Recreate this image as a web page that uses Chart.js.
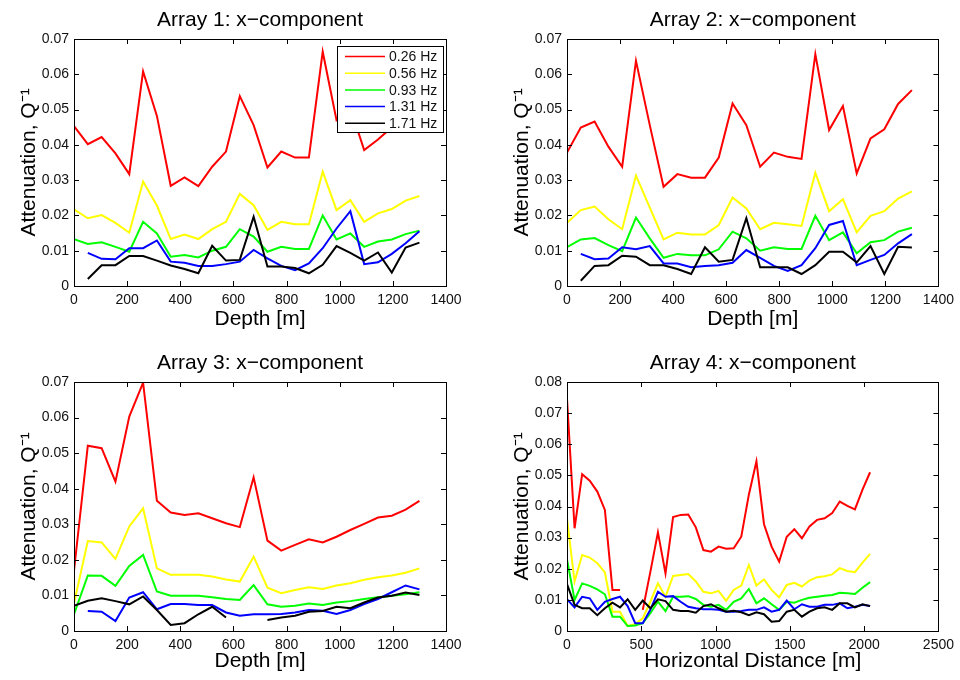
<!DOCTYPE html>
<html>
<head>
<meta charset="utf-8">
<script src="https://cdn.jsdelivr.net/npm/chart.js@4.4.0/dist/chart.umd.min.js"></script>
<style>
  body { margin: 0; background: #fff; }
  #wrap { position: relative; width: 960px; height: 680px; background: #fff; }
  canvas { position: absolute; }
</style>
</head>
<body>
<div id="wrap">
  <canvas id="c1" width="480" height="340" style="left:0;top:0"></canvas>
  <canvas id="c2" width="480" height="340" style="left:480px;top:0"></canvas>
  <canvas id="c3" width="480" height="340" style="left:0;top:340px"></canvas>
  <canvas id="c4" width="480" height="340" style="left:480px;top:340px"></canvas>
</div>
<script>
// frequency bands
var freqLabels = ["0.26 Hz", "0.56 Hz", "0.93 Hz", "1.31 Hz", "1.71 Hz"];
var lineColors = ["#ff0000", "#ffff00", "#00ff00", "#0000ff", "#000000"];

// depth stations for arrays 1-3 [m]
var depth = [0, 52, 104, 156, 208, 260, 312, 364, 416, 468, 520, 572, 624,
             676, 728, 780, 832, 884, 936, 988, 1040, 1092, 1144, 1196, 1248, 1300];

// horizontal stations for array 4 [m]
var dist = [0, 51, 102, 153, 204, 255, 306, 357, 408, 459, 510, 561, 612, 663,
            714, 765, 816, 867, 918, 969, 1020, 1071, 1122, 1173, 1224, 1275, 1326,
            1377, 1428, 1479, 1530, 1581, 1632, 1683, 1734, 1785, 1836, 1887, 1938,
            1989, 2040];

// Array 1
var a1_026 = [0.0453,0.0402,0.0422,0.0376,0.0317,0.0608,0.0482,0.0284,0.0308,0.0283,0.0338,0.0381,0.0538,0.0456,0.0336,0.0381,0.0364,0.0364,0.0664,0.0470,0.0505,0.0385,0.0415,0.0450,0.0490,0.0520];
var a1_056 = [0.0217,0.0192,0.0201,0.0179,0.0151,0.0296,0.0228,0.0133,0.0146,0.0133,0.0161,0.0182,0.0261,0.0229,0.0159,0.0182,0.0175,0.0175,0.0324,0.0215,0.0243,0.0182,0.0206,0.0218,0.0242,0.0255];
var a1_093 = [0.0133,0.0119,0.0124,0.0111,0.0097,0.0182,0.0149,0.0083,0.0088,0.0081,0.0100,0.0111,0.0161,0.0140,0.0097,0.0111,0.0105,0.0105,0.0200,0.0132,0.0149,0.0111,0.0126,0.0132,0.0147,0.0157];
var a1_131 = [null,0.0094,0.0077,0.0076,0.0107,0.0107,0.0129,0.0069,0.0066,0.0057,0.0057,0.0062,0.0069,0.0102,0.0078,0.0057,0.0045,0.0064,0.0107,0.0163,0.0212,0.0062,0.0067,0.0091,0.0121,0.0155];
var a1_171 = [null,0.0020,0.0059,0.0059,0.0085,0.0085,0.0072,0.0058,0.0048,0.0036,0.0114,0.0072,0.0074,0.0196,0.0055,0.0055,0.0051,0.0036,0.0060,0.0113,0.0094,0.0072,0.0095,0.0038,0.0109,0.0123];

// Array 2
var a2_026 = [0.0378,0.0449,0.0466,0.0395,0.0338,0.0638,0.0456,0.0281,0.0317,0.0307,0.0307,0.0364,0.0517,0.0456,0.0338,0.0378,0.0366,0.0360,0.0657,0.0442,0.0510,0.0319,0.0418,0.0444,0.0516,0.0555];
var a2_056 = [0.0179,0.0215,0.0225,0.0189,0.0161,0.0313,0.0222,0.0132,0.0151,0.0146,0.0146,0.0173,0.0251,0.0220,0.0161,0.0179,0.0175,0.0170,0.0321,0.0212,0.0246,0.0152,0.0199,0.0212,0.0248,0.0268];
var a2_093 = [0.0110,0.0132,0.0136,0.0116,0.0099,0.0194,0.0135,0.0080,0.0091,0.0087,0.0087,0.0104,0.0154,0.0135,0.0100,0.0110,0.0105,0.0105,0.0199,0.0130,0.0152,0.0093,0.0124,0.0130,0.0154,0.0165];
var a2_131 = [null,0.0091,0.0076,0.0078,0.0110,0.0104,0.0113,0.0064,0.0064,0.0053,0.0057,0.0059,0.0066,0.0102,0.0080,0.0057,0.0043,0.0059,0.0107,0.0173,0.0184,0.0059,0.0074,0.0088,0.0121,0.0147];
var a2_171 = [null,0.0015,0.0057,0.0059,0.0086,0.0083,0.0059,0.0059,0.0048,0.0034,0.0110,0.0069,0.0074,0.0192,0.0053,0.0053,0.0053,0.0034,0.0059,0.0097,0.0097,0.0067,0.0113,0.0034,0.0111,0.0109];

// Array 3
var a3_026 = [0.0170,0.0521,0.0514,0.0420,0.0603,0.0698,0.0366,0.0333,0.0326,0.0331,0.0317,0.0303,0.0292,0.0432,0.0254,0.0226,0.0242,0.0258,0.0249,0.0265,0.0284,0.0301,0.0319,0.0324,0.0341,0.0366];
var a3_056 = [0.0078,0.0253,0.0249,0.0203,0.0294,0.0345,0.0176,0.0158,0.0158,0.0158,0.0153,0.0145,0.0139,0.0209,0.0122,0.0106,0.0115,0.0123,0.0118,0.0128,0.0134,0.0144,0.0151,0.0156,0.0164,0.0176];
var a3_093 = [0.0047,0.0156,0.0155,0.0127,0.0183,0.0214,0.0111,0.0099,0.0099,0.0099,0.0095,0.0090,0.0087,0.0129,0.0075,0.0068,0.0071,0.0077,0.0073,0.0080,0.0084,0.0090,0.0095,0.0099,0.0103,0.0109];
var a3_131 = [null,0.0056,0.0054,0.0028,0.0094,0.0109,0.0061,0.0076,0.0076,0.0073,0.0073,0.0052,0.0043,0.0047,0.0047,0.0048,0.0052,0.0059,0.0057,0.0048,0.0059,0.0076,0.0090,0.0109,0.0128,0.0117];
var a3_171 = [0.0071,0.0085,0.0092,0.0084,0.0075,0.0097,0.0059,0.0017,0.0022,0.0047,0.0068,0.0038,null,null,0.0031,0.0038,0.0043,0.0054,0.0056,0.0068,0.0064,0.0080,0.0094,0.0099,0.0108,0.0101];

// Array 4
var a4_026 = [0.0746,0.0330,0.0504,0.0483,0.0448,0.0389,0.0132,0.0132,null,null,0.0068,0.0190,0.0317,0.0185,0.0366,0.0373,0.0374,0.0333,0.0260,0.0255,0.0271,0.0264,0.0266,0.0303,0.0438,0.0545,0.0343,0.0271,0.0223,0.0303,0.0327,0.0298,0.0336,0.0357,0.0362,0.0379,0.0416,0.0402,0.0391,0.0454,0.0510];
var a4_056 = [0.0360,0.0159,0.0244,0.0236,0.0218,0.0188,0.0062,0.0062,0.0016,0.0022,0.0041,0.0094,0.0153,0.0110,0.0177,0.0180,0.0183,0.0159,0.0126,0.0121,0.0129,0.0097,0.0132,0.0146,0.0212,0.0146,0.0166,0.0132,0.0108,0.0148,0.0155,0.0143,0.0162,0.0173,0.0176,0.0182,0.0202,0.0193,0.0189,0.0220,0.0248];
var a4_093 = [0.0230,0.0100,0.0153,0.0145,0.0134,0.0118,0.0046,0.0046,0.0016,0.0018,0.0025,0.0057,0.0094,0.0064,0.0110,0.0110,0.0112,0.0103,0.0084,0.0078,0.0084,0.0068,0.0094,0.0105,0.0135,0.0089,0.0105,0.0086,0.0068,0.0094,0.0091,0.0100,0.0107,0.0110,0.0113,0.0116,0.0123,0.0121,0.0119,0.0139,0.0157];
var a4_131 = [0.0102,0.0076,0.0110,0.0105,0.0068,0.0094,0.0103,0.0110,0.0080,0.0025,0.0025,0.0068,0.0126,0.0110,0.0112,0.0094,0.0078,0.0073,0.0070,0.0070,0.0068,0.0062,0.0062,0.0064,0.0068,0.0068,0.0076,0.0062,0.0068,0.0098,0.0070,0.0086,0.0078,0.0078,0.0084,0.0084,0.0089,0.0073,0.0078,0.0084,0.0080];
var a4_171 = [0.0151,0.0084,0.0073,0.0073,0.0051,0.0073,0.0091,0.0076,0.0102,0.0068,0.0098,0.0073,0.0102,0.0096,0.0068,0.0064,0.0064,0.0059,0.0080,0.0086,0.0073,0.0062,0.0065,0.0060,0.0051,0.0060,0.0054,0.0030,0.0032,0.0062,0.0068,0.0046,0.0062,0.0073,0.0076,0.0068,0.0089,0.0089,0.0076,0.0086,0.0080];

var FONT = '"Liberation Sans", Arial, Helvetica, sans-serif';
Chart.defaults.font.family = FONT;
Chart.defaults.color = '#111';

// box around the axes with inward tick marks on all four sides
var frameTicks = {
  id: 'frameTicks',
  afterDatasetsDraw: function(chart) {
    var ctx = chart.ctx, a = chart.chartArea;
    var sx = chart.scales.x, sy = chart.scales.y;
    var len = 5;
    ctx.save();
    ctx.strokeStyle = '#000';
    ctx.lineWidth = 1;
    ctx.beginPath();
    sx.ticks.forEach(function(t) {
      var px = Math.round(sx.getPixelForValue(t.value)) + 0.5;
      ctx.moveTo(px, a.bottom); ctx.lineTo(px, a.bottom - len);
      ctx.moveTo(px, a.top); ctx.lineTo(px, a.top + len);
    });
    sy.ticks.forEach(function(t) {
      var py = Math.round(sy.getPixelForValue(t.value)) + 0.5;
      ctx.moveTo(a.left, py); ctx.lineTo(a.left + len, py);
      ctx.moveTo(a.right, py); ctx.lineTo(a.right - len, py);
    });
    ctx.stroke();
    ctx.strokeRect(Math.round(a.left) + 0.5, Math.round(a.top) + 0.5,
                   Math.round(a.right - a.left), Math.round(a.bottom - a.top));
    ctx.restore();
  }
};

// title centred over the axes box
var axesTitle = {
  id: 'axesTitle',
  afterDraw: function(chart, args, opts) {
    var ctx = chart.ctx, a = chart.chartArea;
    ctx.save();
    ctx.fillStyle = '#000';
    ctx.font = '21px ' + FONT;
    ctx.textAlign = 'center';
    ctx.textBaseline = 'alphabetic';
    ctx.fillText(opts.text, (a.left + a.right) / 2, opts.y);
    ctx.restore();
  }
};

// boxed legend in the upper right corner of the axes
var boxLegend = {
  id: 'boxLegend',
  afterDraw: function(chart, args, opts) {
    if (!opts.show) return;
    var ctx = chart.ctx, a = chart.chartArea;
    var w = 106, h = 86;
    var x0 = a.right - 3 - w, y0 = a.top + 7;
    ctx.save();
    ctx.fillStyle = '#fff';
    ctx.fillRect(x0, y0, w, h);
    ctx.strokeStyle = '#000';
    ctx.lineWidth = 1;
    ctx.strokeRect(Math.round(x0) + 0.5, Math.round(y0) + 0.5, w, h);
    ctx.font = '14px ' + FONT;
    ctx.textBaseline = 'middle';
    ctx.textAlign = 'left';
    var ds = chart.data.datasets;
    for (var i = 0; i < ds.length; i++) {
      var yy = y0 + 10.5 + i * 16.7;
      ctx.strokeStyle = ds[i].borderColor;
      ctx.lineWidth = 1.5;
      ctx.beginPath();
      ctx.moveTo(x0 + 8, yy);
      ctx.lineTo(x0 + 48, yy);
      ctx.stroke();
      ctx.fillStyle = '#111';
      ctx.fillText(ds[i].label, x0 + 52, yy + 1);
    }
    ctx.restore();
  }
};

function makePlot(id, title, xTitle, xs, series, xMax, xStep, yMax, box) {
  var datasets = series.map(function(vals, k) {
    return {
      label: freqLabels[k],
      data: xs.map(function(x, i) { return { x: x, y: vals[i] }; }),
      borderColor: lineColors[k],
      backgroundColor: lineColors[k],
      borderWidth: 2,
      pointRadius: 0,
      tension: 0,
      fill: false,
      order: 5 - k
    };
  });
  return new Chart(document.getElementById(id), {
    type: 'line',
    data: { datasets: datasets },
    plugins: [frameTicks, axesTitle, boxLegend],
    options: {
      responsive: false,
      animation: false,
      layout: { padding: { left: 0, right: box.right, top: box.top, bottom: 0 } },
      plugins: {
        legend: { display: false },
        tooltip: { enabled: false },
        axesTitle: { text: title, y: box.titleY },
        boxLegend: { show: !!box.legend }
      },
      scales: {
        x: {
          type: 'linear',
          min: 0, max: xMax,
          grid: { display: false, drawTicks: false },
          border: { display: false },
          afterFit: function(s) { s.height = box.xH; },
          ticks: {
            stepSize: xStep, autoSkip: false, maxRotation: 0, padding: 6,
            color: '#111', font: { size: 14 },
            callback: function(v) { return String(v); }
          },
          title: {
            display: true, text: xTitle, color: '#000',
            font: { size: 21 }, padding: { top: 0, bottom: box.xTitlePad }
          }
        },
        y: {
          min: 0, max: yMax,
          grid: { display: false, drawTicks: false },
          border: { display: false },
          afterFit: function(s) { s.width = box.yW; },
          ticks: {
            stepSize: 0.01, padding: 5,
            color: '#111', font: { size: 14 },
            callback: function(v) { return v === 0 ? '0' : v.toFixed(2); }
          },
          title: {
            display: true, text: 'Attenuation, Q\u207B\u00B9', color: '#000',
            font: { size: 21 }, padding: { top: box.yTitlePad, bottom: 0 }
          }
        }
      }
    }
  });
}

makePlot('c1', 'Array 1: x\u2212component', 'Depth [m]', depth,
  [a1_026, a1_056, a1_093, a1_131, a1_171], 1400, 200, 0.07,
  { right: 34, top: 39, xH: 54, yW: 74, titleY: 26, xTitlePad: 8, yTitlePad: 17, legend: true });

makePlot('c2', 'Array 2: x\u2212component', 'Depth [m]', depth,
  [a2_026, a2_056, a2_093, a2_131, a2_171], 1400, 200, 0.07,
  { right: 20, top: 39, xH: 54, yW: 87, titleY: 26, xTitlePad: 8, yTitlePad: 30 });

makePlot('c3', 'Array 3: x\u2212component', 'Depth [m]', depth,
  [a3_026, a3_056, a3_093, a3_131, a3_171], 1400, 200, 0.07,
  { right: 34, top: 42, xH: 49, yW: 74, titleY: 29, xTitlePad: 6, yTitlePad: 17 });

makePlot('c4', 'Array 4: x\u2212component', 'Horizontal Distance [m]', dist,
  [a4_026, a4_056, a4_093, a4_131, a4_171], 2500, 500, 0.08,
  { right: 17, top: 42, xH: 49, yW: 87, titleY: 29, xTitlePad: 6, yTitlePad: 30 });
</script>
</body>
</html>
